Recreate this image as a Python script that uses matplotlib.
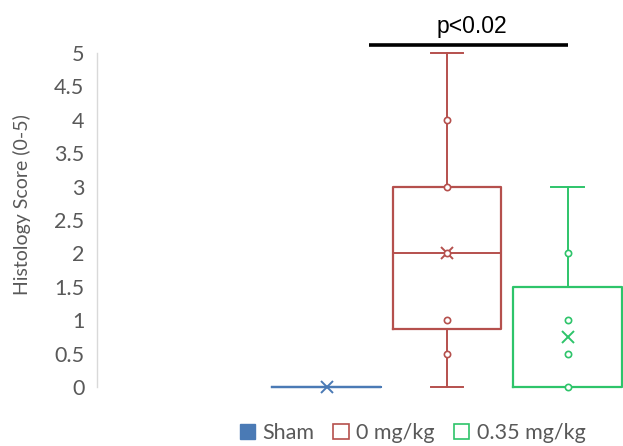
import matplotlib
matplotlib.use("Agg")
import matplotlib.pyplot as plt
from matplotlib.patches import Patch

# Groups and their box-and-whisker summaries (histology score, 0-5)
groups = ["Sham", "0 mg/kg", "0.35 mg/kg"]
colors = ["#4A7AB5", "#B5504D", "#2EC46A"]
q1 = [0.0, 0.875, 0.0]
median = [0.0, 2.0, 0.0]
q3 = [0.0, 3.0, 1.5]
whisker_low = [0.0, 0.0, 0.0]
whisker_high = [0.0, 5.0, 3.0]
means = [0.0, 2.0, 0.75]
inner_points = [[], [0.5, 1.0, 2.0, 3.0, 4.0], [0.0, 0.5, 1.0, 2.0]]

y_ticks = [0, 0.5, 1, 1.5, 2, 2.5, 3, 3.5, 4, 4.5, 5]
y_tick_labels = ["0", "0.5", "1", "1.5", "2", "2.5", "3", "3.5", "4", "4.5", "5"]
p_label = "p<0.02"

positions = [0, 1, 2]

fig = plt.figure(figsize=(6.23, 4.46), dpi=100)
ax = fig.add_axes([97 / 623, 59 / 446, 526 / 623, 334 / 446])

for i, g in enumerate(groups):
    stats = [{
        "label": g,
        "q1": q1[i], "med": median[i], "q3": q3[i],
        "whislo": whisker_low[i], "whishi": whisker_high[i],
        "mean": means[i], "fliers": [],
    }]
    c = colors[i]
    ax.bxp(stats, positions=[positions[i]], widths=0.9, capwidths=0.27,
           showmeans=True, showfliers=False, patch_artist=False,
           boxprops=dict(color=c, linewidth=1.6),
           medianprops=dict(color=c, linewidth=1.4),
           whiskerprops=dict(color=c, linewidth=1.4),
           capprops=dict(color=c, linewidth=1.4),
           meanprops=dict(marker="x", markeredgecolor=c, markersize=8,
                          markeredgewidth=1.4),
           manage_ticks=False)
    if inner_points[i]:
        ax.plot([positions[i]] * len(inner_points[i]), inner_points[i],
                linestyle="none", marker="o", markersize=4.5,
                markerfacecolor="white", markeredgecolor=c,
                markeredgewidth=1.2, zorder=3, clip_on=False)

ax.set_xlim(-1.905, 2.46)
ax.set_ylim(0, 5)
ax.set_yticks(y_ticks)
ax.set_yticklabels(y_tick_labels)
ax.set_xticks([])
for s in ["top", "right", "bottom"]:
    ax.spines[s].set_visible(False)
ax.spines["left"].set_color("#D9D9D9")
ax.spines["left"].set_linewidth(1.0)
ax.tick_params(axis="y", length=0, pad=9, labelsize=15.5, labelcolor="#595959")
for lbl in ax.get_yticklabels():
    lbl.set_fontfamily("Lato")
for art in ax.lines:
    art.set_clip_on(False)

ax.set_ylabel("Histology Score (0-5)", fontsize=14, color="#595959",
              family="Lato")
ax.yaxis.set_label_coords(-0.125, 0.545)

# Significance bar between the two treated groups
bar_y = 5.12
ax.plot([positions[1] - 0.65, positions[2]], [bar_y, bar_y], color="black",
        linewidth=2.6, clip_on=False, solid_capstyle="butt")
ax.text((positions[1] - 0.65 + positions[2]) / 2 + 0.03, bar_y + 0.1, p_label,
        ha="center", va="bottom", fontsize=16.5, family="Liberation Sans",
        color="black")

handles = [
    Patch(facecolor=colors[0], edgecolor=colors[0]),
    Patch(facecolor="white", edgecolor=colors[1], linewidth=1.2),
    Patch(facecolor="white", edgecolor=colors[2], linewidth=1.2),
]
leg = fig.legend(handles, groups, loc="center", bbox_to_anchor=(0.662, 0.029),
                 ncol=3, frameon=False, handlelength=0.7, handleheight=0.7,
                 handletextpad=0.35, columnspacing=0.9,
                 prop={"family": "Lato", "size": 15.5})
for t in leg.get_texts():
    t.set_color("#595959")

fig.savefig("out.png", dpi=100)
